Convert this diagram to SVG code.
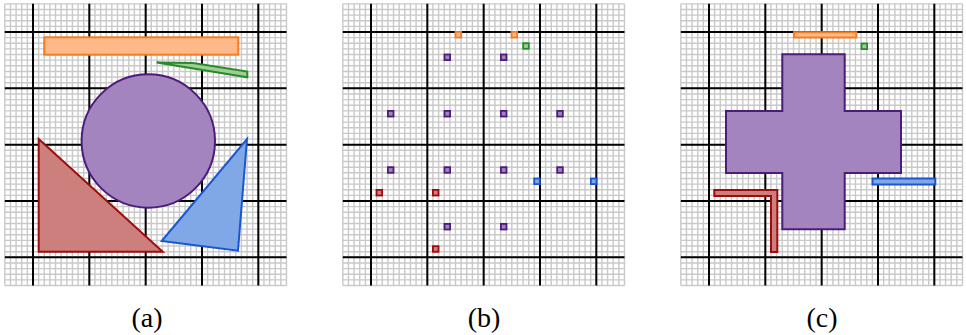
<svg xmlns="http://www.w3.org/2000/svg" xmlns:xlink="http://www.w3.org/1999/xlink" width="966" height="335" viewBox="0 0 966 335">
<style>
.fine{fill:none;stroke:#c9c9c9;stroke-dasharray:1.4 4.233}
.heavy{fill:none;stroke:#000;stroke-width:2}
.or{fill:#fdb98a;stroke:#f57c20;stroke-width:2}
.gr{fill:#9ccf94;stroke:#2a8a2a;stroke-width:2}
.pu{fill:#a484be;stroke:#4b1c7c;stroke-width:2}
.rd{fill:#cd7f7e;stroke:#a00c0c;stroke-width:2}
.bl{fill:#80a8e6;stroke:#1a56d0;stroke-width:2}
.sq{stroke-width:1.8}
</style>
<defs>
<g id="grid">
<rect x="-28.17" y="-28.17" width="281.67" height="281.67" fill="#fff"/>
<line class="fine" x1="-28.87" y1="112.67" x2="254.4" y2="112.67" stroke-width="281.67"/>
<line class="fine" x1="112.67" y1="-28.87" x2="112.67" y2="254.4" stroke-width="281.67"/>
<path class="heavy" d="M0,-28.17V253.5M56.33,-28.17V253.5M112.67,-28.17V253.5M169,-28.17V253.5M225.33,-28.17V253.5M-28.17,0H253.5M-28.17,56.33H253.5M-28.17,112.67H253.5M-28.17,169H253.5M-28.17,225.33H253.5"/>
</g>
</defs>
<rect width="966" height="335" fill="#fff"/>
<use xlink:href="#grid" transform="translate(33,32)"/>
<use xlink:href="#grid" transform="translate(371,32)"/>
<use xlink:href="#grid" transform="translate(709,32)"/>

<g id="panel-a">
<g id="a-orange"><rect class="or" x="44.3" y="37.3" width="194" height="17.4"/></g>
<g id="a-green"><polygon class="gr" points="156.7,62.6 193,63 247.3,71.6 247.3,77.3"/></g>
<g id="a-circle"><circle class="pu" cx="148.3" cy="141" r="66.7"/></g>
<g id="a-red"><polygon class="rd" points="38.7,139 38.7,251.7 162.7,251.7"/></g>
<g id="a-blue"><polygon class="bl" points="247,139 238,250.7 161.7,241"/></g>
</g>

<g id="panel-b">
<g id="b-orange" class="or sq">
<rect x="455.5" y="31.9" width="5.6" height="5.6"/><rect x="511.5" y="31.9" width="5.6" height="5.6"/>
</g>
<g id="b-green" class="gr sq"><rect x="523.2" y="43.2" width="5.6" height="5.6"/></g>
<g id="b-purple" class="pu sq">
<rect x="444.5" y="54.5" width="5.6" height="5.6"/><rect x="500.9" y="54.5" width="5.6" height="5.6"/>
<rect x="387.9" y="110.9" width="5.6" height="5.6"/><rect x="444.5" y="110.9" width="5.6" height="5.6"/><rect x="500.9" y="110.9" width="5.6" height="5.6"/><rect x="557.2" y="110.9" width="5.6" height="5.6"/>
<rect x="387.9" y="167.2" width="5.6" height="5.6"/><rect x="444.5" y="167.2" width="5.6" height="5.6"/><rect x="500.9" y="167.2" width="5.6" height="5.6"/><rect x="557.2" y="167.2" width="5.6" height="5.6"/>
<rect x="444.5" y="223.9" width="5.6" height="5.6"/><rect x="500.9" y="223.9" width="5.6" height="5.6"/>
</g>
<g id="b-blue" class="bl sq">
<rect x="534.2" y="178.5" width="5.6" height="5.6"/><rect x="590.9" y="178.5" width="5.6" height="5.6"/>
</g>
<g id="b-red" class="rd sq">
<rect x="376.5" y="189.9" width="5.6" height="5.6"/><rect x="432.9" y="189.9" width="5.6" height="5.6"/><rect x="432.9" y="246.2" width="5.6" height="5.6"/>
</g>
</g>

<g id="panel-c">
<g id="c-orange"><rect class="or" x="794" y="32.2" width="62.3" height="5.3"/></g>
<g id="c-green"><rect class="gr sq" x="861.5" y="43.5" width="5.6" height="5.6"/></g>
<g id="c-cross"><polygon class="pu" points="782.3,54.3 844.7,54.3 844.7,111 901,111 901,173 844.7,173 844.7,229.3 782.3,229.3 782.3,173 726,173 726,111 782.3,111"/></g>
<g id="c-blue"><rect class="bl" x="872.5" y="178.5" width="62.8" height="6"/></g>
<g id="c-red"><polygon class="rd" points="714.3,190 777.3,190 777.3,252 771,252 771,196 714.3,196"/></g>
</g>

<g id="connectors"/>

<g id="labels" font-family="'Liberation Serif', 'DejaVu Serif', serif" font-size="28" text-anchor="middle" fill="#000">
<text x="147" y="327">(a)</text>
<text x="484" y="327">(b)</text>
<text x="822" y="327">(c)</text>
</g>
</svg>
